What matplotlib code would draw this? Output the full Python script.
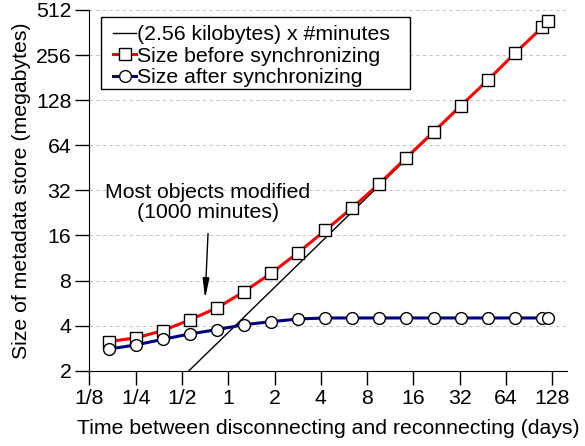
import matplotlib
matplotlib.use("Agg")
import matplotlib.pyplot as plt
from matplotlib.patches import Rectangle
from matplotlib.ticker import FixedLocator, NullLocator

plt.rcParams['font.family'] = ['Liberation Sans', 'DejaVu Sans']
FS = 15.3

# time between disconnect and reconnect (days)
days = [0.1667, 0.25, 0.375, 0.5625, 0.844, 1.27, 1.90, 2.85, 4.27,
        6.41, 9.61, 14.4, 21.6, 32.4, 48.7, 73.0, 110.0, 120.0]
# metadata store size (megabytes)
size_before = [3.13, 3.31, 3.70, 4.37, 5.25, 6.75, 8.95, 12.3, 17.3,
               24.5, 35.5, 53.0, 78.6, 117.0, 174.0, 263.0, 392.0, 432.0]
size_after = [2.79, 2.97, 3.24, 3.52, 3.76, 4.06, 4.25, 4.43, 4.50,
              4.50, 4.50, 4.50, 4.50, 4.50, 4.50, 4.50, 4.50, 4.50]
# (2.56 kilobytes) x #minutes, end points
ref_days = [0.1667, 120.0]
ref_size = [0.6, 432.0]

xticks = [1/8, 1/4, 1/2, 1, 2, 4, 8, 16, 32, 64, 128]
xlabels = ['1/8', '1/4', '1/2', '1', '2', '4', '8', '16', '32', '64', '128']
yticks = [2, 4, 8, 16, 32, 64, 128, 256, 512]
ylabels = ['2', '4', '8', '16', '32', '64', '128', '256', '512']

fig = plt.figure(figsize=(5.85, 4.46), dpi=100)
ax = fig.add_axes([0.1527, 0.1688, 0.9697 - 0.1527, 0.9776 - 0.1688])

ax.set_xscale('log', base=2)
ax.set_yscale('log', base=2)
ax.set_xlim(1/8, 160)
ax.set_ylim(2, 512)

for y in yticks[1:]:
    ax.axhline(y, color='#b8b8b8', lw=0.6, ls=(0, (4, 4)), zorder=0)

ax.plot(ref_days, ref_size, color='black', lw=1, zorder=2,
        label='(2.56 kilobytes) x #minutes')
ax.plot(days, size_before, color='red', lw=2.2, marker='s', ms=8.5,
        mfc='white', mec='black', mew=1, zorder=3,
        label='Size before synchronizing')
ax.plot(days, size_after, color='#000080', lw=2.2, marker='o', ms=8.5,
        mfc='white', mec='black', mew=1, zorder=4,
        label='Size after synchronizing')

ax.xaxis.set_major_locator(FixedLocator(xticks))
ax.xaxis.set_minor_locator(NullLocator())
ax.set_xticklabels(xlabels)
ax.yaxis.set_major_locator(FixedLocator(yticks))
ax.yaxis.set_minor_locator(NullLocator())
ax.set_yticklabels(ylabels)
ax.tick_params(direction='out', length=10, width=1, labelsize=FS, pad=3)

for side in ['top', 'right']:
    ax.spines[side].set_visible(False)

ax.set_xlabel('Time between disconnecting and reconnecting (days)',
              fontsize=FS, labelpad=8)
ax.set_ylabel('Size of metadata store (megabytes)', fontsize=FS, labelpad=3)

ax.text(0.739, 26.6, 'Most objects modified\n(1000 minutes)', fontsize=FS,
        ha='center', va='center', linespacing=1.05)
ax.annotate('', xy=(0.707, 6.06), xytext=(0.739, 16.5),
            arrowprops=dict(arrowstyle='-|>,head_length=1.2,head_width=0.2',
                            color='black', lw=1, shrinkA=0, shrinkB=0))

# legend box drawn separately so its padding matches the original
ax.add_patch(Rectangle((0.0245, 0.781), 0.6465, 0.1996, transform=ax.transAxes,
                       facecolor='white', edgecolor='black', lw=1, zorder=5))
leg = ax.legend(loc='upper left', bbox_to_anchor=(0.0496, 0.958),
                borderaxespad=0, fontsize=FS, frameon=False,
                handlelength=1.1, handletextpad=0.05, labelspacing=0.12,
                borderpad=0, numpoints=1)
leg.set_zorder(6)

fig.savefig('out.png', dpi=100)
